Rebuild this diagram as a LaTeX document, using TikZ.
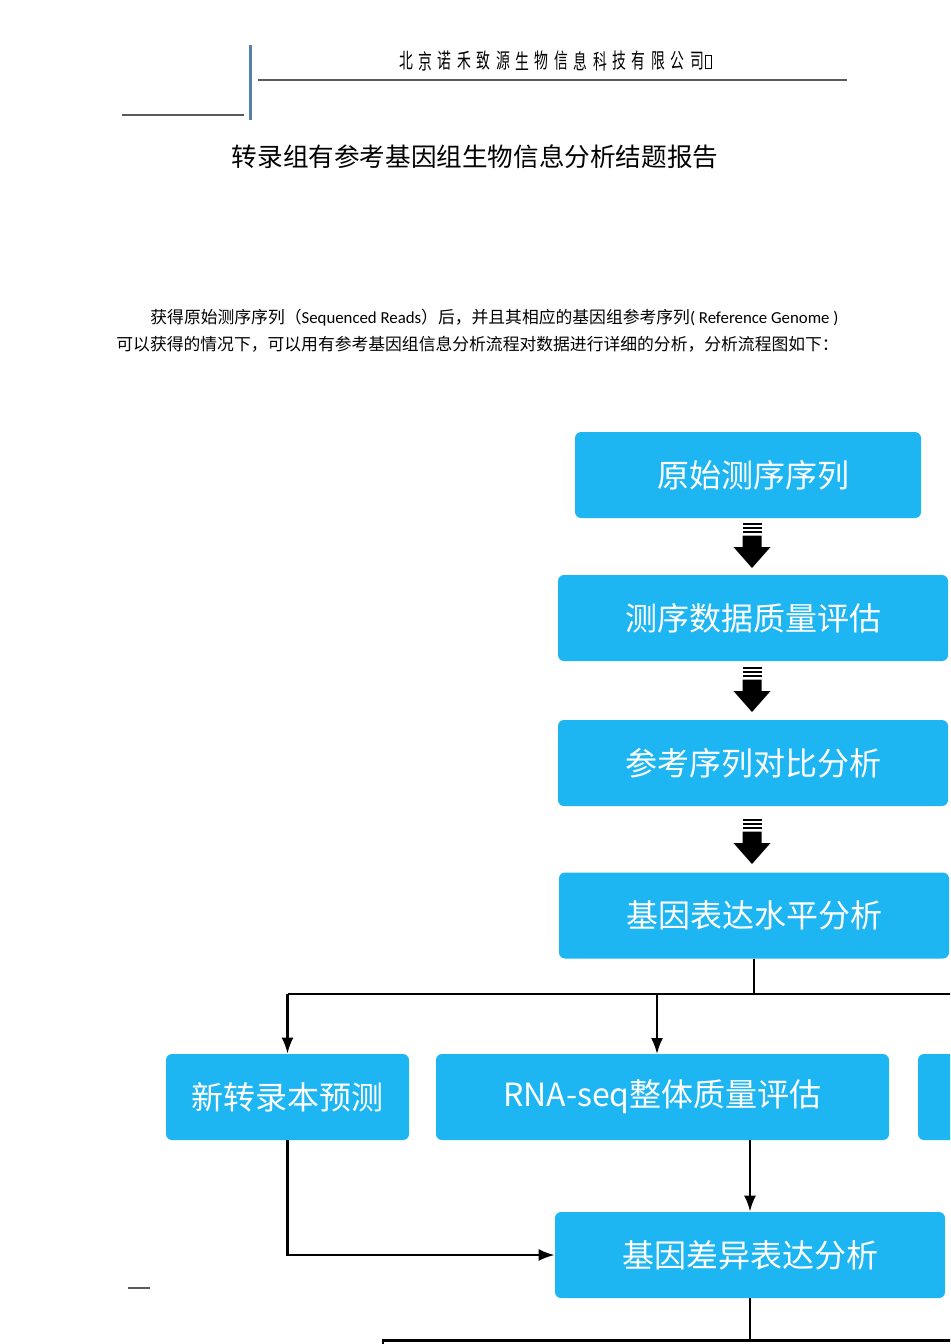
\documentclass[tikz,border=0pt]{standalone}
\usepackage{fontspec}
\setmainfont{Noto Sans CJK SC}
\newfontfamily\cjk{Noto Sans CJK SC}
\newfontfamily\lat{Carlito}
\usetikzlibrary{arrows.meta}
\definecolor{stageblue}{RGB}{30,182,242}
\definecolor{rulegray}{RGB}{90,90,90}
\definecolor{ruleblue}{RGB}{88,126,174}
\tikzset{
  stage/.style={fill=stageblue, rounded corners=3pt, text=white,
    font=\cjk\fontsize{16}{18}\selectfont, minimum height=43pt, inner sep=0pt},
  line/.style={line width=1.1pt, black},
  link/.style={line, -{Latex[length=8pt,width=6pt]}},
  fatdown/.pic={
    \fill (-9.5,0) rectangle (9.5,2);
    \fill (-9.5,4) rectangle (9.5,6);
    \fill (-9.5,8) rectangle (9.5,10);
    \fill (-9.5,12.5) -- (9.5,12.5) -- (9.5,24) -- (18.5,24)
      -- (0,45) -- (-18.5,24) -- (-9.5,24) -- cycle;
  }
}
\begin{document}
\begin{tikzpicture}[x=0.5pt,y=-0.5pt]
  \path[use as bounding box, clip] (0,0) rectangle (950,1344);
  \fill[white] (0,0) rectangle (950,1344);

  % page header
  \draw[ruleblue, line width=1.5pt] (250,45) -- (250,120);
  \draw[rulegray, line width=0.6pt] (258,80) -- (847,80);
  \draw[rulegray, line width=0.8pt] (122,115) -- (244,115);
  \foreach \c [count=\i] in {北,京,诺,禾,致,源,生,物,信,息,科,技,有,限,公,司}
    \node[xscale=0.66, font=\cjk\fontsize{10.5}{11}\selectfont, inner sep=0pt]
      (head\i) at (406+19.4*\i-19.4,61) {\c};
  \draw[line width=0.4pt] (705,55) rectangle (711,68);

  \node[font=\cjk\fontsize{12.8}{14}\selectfont] (title) at (475,157)
    {转录组有参考基因组生物信息分析结题报告};

  \node[anchor=west, inner sep=0pt, font=\fontsize{8.4}{10}\selectfont] (para1) at (150,318)
    {{\cjk 获得原始测序序列（}{\lat Sequenced Reads}{\cjk ）后，并且其相应的基因组参考序列}{\lat ( Reference Genome )}};
  \node[anchor=west, inner sep=0pt, font=\cjk\fontsize{8.4}{10}\selectfont] (para2) at (116,344)
    {可以获得的情况下，可以用有参考基因组信息分析流程对数据进行详细的分析，分析流程图如下：};

  % flow chart
  \node[stage, minimum width=173pt] (raw) at (748,475) {\hspace*{5pt}原始测序序列};
  \node[stage, minimum width=195pt] (qc) at (753,618) {测序数据质量评估};
  \node[stage, minimum width=195pt] (align) at (753,763) {参考序列对比分析};
  \node[stage, minimum width=195pt] (expr) at (754,915.5) {基因表达水平分析};
  \node[stage, minimum width=121.5pt] (novel) at (287.5,1097) {新转录本预测};
  \node[stage, minimum width=226.5pt] (rnaqc) at (662.5,1097) {RNA-seq整体质量评估};
  \node[stage, minimum width=190pt] (side) at (1108,1097) {};
  \node[stage, minimum width=195pt] (deg) at (750,1255) {基因差异表达分析};

  \pic at (752,523) {fatdown};
  \pic at (752,667) {fatdown};
  \pic at (752,819) {fatdown};

  \draw[line] (expr.south) -- ++(0,35) coordinate (split);
  \draw[line] (split -| novel.north) -- (split -| side.north);
  \draw[link] (split -| novel.north) -- (novel.north);
  \draw[link] (split -| 657,0) -- (657,1054);
  \draw[link] (split -| side.north) -- (side.north);
  \draw[link] (deg.north |- rnaqc.south) -- (deg.north);
  \draw[link] (novel.south) |- (deg.west);

  \draw[line] (deg.south) -- ++(0,42) coordinate (split2);
  \coordinate (dropL) at (383,1400);
  \draw[line] (dropL) |- (split2) -- ++(400,0);

  \draw[rulegray, line width=0.6pt] (128,1288) -- (150,1288);
\end{tikzpicture}
\end{document}
